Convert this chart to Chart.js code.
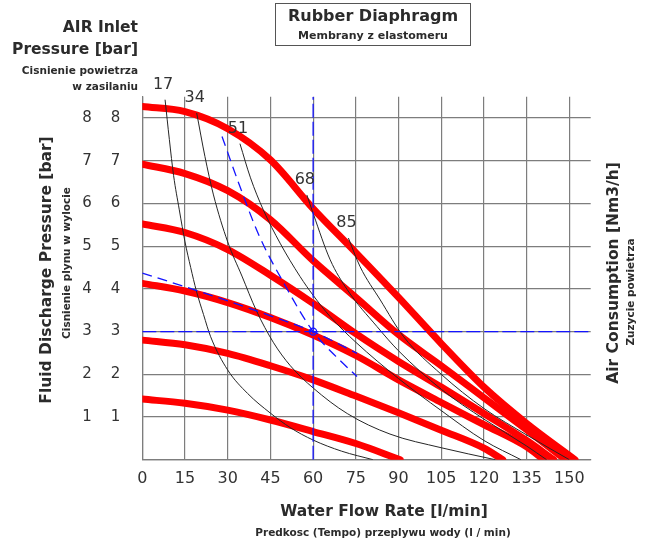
<!DOCTYPE html>
<html lang="en">
<head>
<meta charset="UTF-8">
<title>Rubber Diaphragm</title>
<script src="https://cdn.jsdelivr.net/npm/chart.js"></script>
<style>
  body { margin: 0; background: #fff; }
  #wrap { width: 650px; height: 542px; }
</style>
</head>
<body>
<div id="wrap"><canvas id="chart" width="650" height="542"></canvas></div>
<script>
// pump curves (red): [flow l/min, discharge bar]
const p1 = [[0,8.27],[15,8.15],[30,7.75],[45,7.02],[60,5.88],[75,4.85],[90,3.8],[105,2.72],[120,1.7],[135,0.85],[152,0]];
const p2 = [[0,6.92],[15,6.7],[30,6.3],[45,5.62],[60,4.66],[75,3.8],[90,2.93],[105,2.2],[120,1.45],[135,0.7],[148.6,0]];
const p3 = [[0,5.52],[15,5.32],[30,4.92],[45,4.32],[60,3.66],[75,2.95],[90,2.3],[105,1.7],[120,1.08],[135,0.45],[144.5,0]];
const p4 = [[0,4.13],[15,3.95],[30,3.68],[45,3.33],[60,2.92],[75,2.44],[90,1.87],[105,1.34],[120,0.82],[135,0.3],[141,0]];
const p5 = [[0,2.8],[15,2.69],[30,2.49],[45,2.2],[60,1.87],[75,1.49],[90,1.1],[105,0.69],[120,0.27],[126.6,0]];
const p6 = [[0,1.42],[15,1.32],[30,1.16],[45,0.93],[60,0.66],[75,0.38],[90.6,0]];

// air consumption curves (black), Nm3/h
const airNames = ['17', '34', '51', '68', '85'];
const air17 = [[8,8.43],[9.5,7.5],[11,6.65],[13,5.85],[15,5.1],[17,4.5],[19,3.95],[21.5,3.4],[24,2.88],[30,2.1],[37,1.55],[45,1.09],[52,0.75],[60,0.46],[70,0.2],[81,0]];
const air34 = [[19.1,8.12],[22,7.1],[25,6.2],[30,5.1],[35,4.3],[40,3.5],[46,2.75],[52,2.2],[60,1.68],[72,1.08],[87,0.6],[105,0.28],[124,0]];
const air51 = [[34.3,7.4],[38,6.6],[42.5,5.85],[48.4,5.07],[55.4,4.29],[60,3.85],[66,3.35],[75,2.75],[90,1.9],[105,1.15],[120,0.45],[133,0]];
const air68 = [[57.8,6.2],[60.1,5.75],[66,4.68],[72,3.98],[82.4,3.12],[90,2.55],[105,1.65],[120,0.95],[135,0.32],[142,0]];
const air85 = [[72.4,5.19],[76.5,4.52],[83.6,3.74],[91.8,2.88],[105,2.0],[120,1.2],[135,0.58],[150,0]];

// example operating point and its helper lines (blue)
const opPoint = [[60,3]];
const opVertical = [[60,0],[60,8.5]];
const opHorizontal = [[0,3],[157.5,3]];
const opAirCurve = [[28,7.57],[34,6.45],[41,5.25],[50,4.1],[60,3.0],[68,2.42],[75.4,1.95]];
const opPumpCurve = [[0,4.37],[15,4.05],[30,3.72],[45,3.37],[60,3.0],[75.4,2.49]];

const toXY = arr => arr.map(p => ({x: p[0], y: p[1]}));
const gridColor = '#7d7d7d';
const font = '"DejaVu Sans", sans-serif';

function redLine(d) {
  return { data: toXY(d), borderColor: '#ff0000', borderWidth: 7, borderCapStyle: 'round',
           borderJoinStyle: 'round', pointRadius: 0, cubicInterpolationMode: 'monotone', fill: false };
}
function blackLine(d) {
  return { data: toXY(d), borderColor: '#262626', borderWidth: 1, pointRadius: 0,
           cubicInterpolationMode: 'monotone', fill: false };
}
function blueLine(d, dash, curved) {
  return { data: toXY(d), borderColor: '#1414ff', borderWidth: 1.3, borderDash: dash, pointRadius: 0,
           cubicInterpolationMode: curved ? 'monotone' : 'default', tension: 0, fill: false };
}

const datasets = [
  { data: toXY(opPoint), pointRadius: 3.5, pointBorderColor: '#1414ff', pointBackgroundColor: 'rgba(0,0,0,0)',
    pointBorderWidth: 1.3, showLine: false },
  blueLine(opVertical, [14, 4], false),
  blueLine(opHorizontal, [14, 4], false),
  blueLine(opAirCurve, [10, 6], true),
  blueLine(opPumpCurve, [10, 6], true),
  blackLine(air17), blackLine(air34), blackLine(air51), blackLine(air68), blackLine(air85),
  redLine(p1), redLine(p2), redLine(p3), redLine(p4), redLine(p5), redLine(p6)
];
const airCurves = [air17, air34, air51, air68, air85];

const textPlugin = {
  id: 'texts',
  afterDraw(chart) {
    const ctx = chart.ctx;
    const xs = chart.scales.x, ys = chart.scales.y;
    ctx.save();
    ctx.fillStyle = '#2b2b2b';
    ctx.textBaseline = 'middle';

    // title box
    ctx.strokeStyle = '#555';
    ctx.lineWidth = 1;
    ctx.strokeRect(275.5, 3.5, 195, 42);
    ctx.textAlign = 'center';
    ctx.font = 'bold 16px ' + font;
    ctx.fillText('Rubber Diaphragm', 373, 17);
    ctx.font = 'bold 11px ' + font;
    ctx.fillText('Membrany z elastomeru', 373, 36);

    // air inlet heading
    ctx.textAlign = 'right';
    ctx.font = 'bold 15.5px ' + font;
    ctx.fillText('AIR Inlet', 138, 28);
    ctx.fillText('Pressure [bar]', 138, 50);
    ctx.font = 'bold 10.5px ' + font;
    ctx.fillText('Cisnienie powietrza', 138, 71);
    ctx.fillText('w zasilaniu', 138, 87);

    // x title
    ctx.textAlign = 'center';
    ctx.font = 'bold 15.5px ' + font;
    ctx.fillText('Water Flow Rate [l/min]', 384, 512);
    ctx.font = 'bold 10.5px ' + font;
    ctx.fillText('Predkosc (Tempo) przeplywu wody (l / min)', 383, 533);

    // left rotated titles
    ctx.save();
    ctx.translate(47, 270);
    ctx.rotate(-Math.PI / 2);
    ctx.font = 'bold 15.5px ' + font;
    ctx.fillText('Fluid Discharge Pressure [bar]', 0, 0);
    ctx.restore();
    ctx.save();
    ctx.translate(67, 263);
    ctx.rotate(-Math.PI / 2);
    ctx.font = 'bold 10.5px ' + font;
    ctx.fillText('Cisnienie plynu w wylocie', 0, 0);
    ctx.restore();

    // right rotated titles
    ctx.save();
    ctx.translate(614, 273);
    ctx.rotate(-Math.PI / 2);
    ctx.font = 'bold 15.5px ' + font;
    ctx.fillText('Air Consumption [Nm3/h]', 0, 0);
    ctx.restore();
    ctx.save();
    ctx.translate(631, 292);
    ctx.rotate(-Math.PI / 2);
    ctx.font = 'bold 10.5px ' + font;
    ctx.fillText('Zuzycie powietrza', 0, 0);
    ctx.restore();

    // labels on air consumption curves
    ctx.font = '16px ' + font;
    ctx.fillStyle = '#333';
    airCurves.forEach((c, i) => {
      const px = xs.getPixelForValue(c[0][0]);
      const py = ys.getPixelForValue(c[0][1]);
      ctx.fillText(airNames[i], px - 2, py - 15);
    });
    ctx.restore();
  }
};

const tickFont = { family: font, size: 15 };

new Chart(document.getElementById('chart'), {
  type: 'line',
  data: { datasets: datasets },
  options: {
    responsive: false,
    animation: false,
    devicePixelRatio: 1,
    layout: { padding: { left: 72.3, right: 59.3, top: 96.7, bottom: 42.3 } },
    plugins: { legend: { display: false }, tooltip: { enabled: false } },
    scales: {
      x: {
        type: 'linear', min: 0, max: 157.5,
        afterFit: s => { s.height = 40; },
        grid: { color: gridColor, lineWidth: 1.2, drawTicks: false },
        border: { color: gridColor, width: 1.2 },
        ticks: { stepSize: 15, includeBounds: false, padding: 10, color: '#333', font: { family: font, size: 16 } }
      },
      y: {
        type: 'linear', position: 'left', min: 0, max: 8.5, weight: 0,
        afterFit: s => { s.width = 37; },
        grid: { color: gridColor, lineWidth: 1.2, drawTicks: false },
        border: { color: gridColor, width: 1.2 },
        ticks: { stepSize: 1, includeBounds: false, padding: 22, color: '#333', font: tickFont,
                 callback: v => v === 0 ? '' : v }
      },
      yOuter: {
        type: 'linear', position: 'left', min: 0, max: 8.5, weight: 1,
        afterFit: s => { s.width = 33; },
        grid: { display: false, drawTicks: false },
        border: { display: false },
        ticks: { stepSize: 1, includeBounds: false, padding: 13.6, color: '#333', font: tickFont,
                 callback: v => v === 0 ? '' : v }
      }
    }
  },
  plugins: [textPlugin]
});
</script>
</body>
</html>
